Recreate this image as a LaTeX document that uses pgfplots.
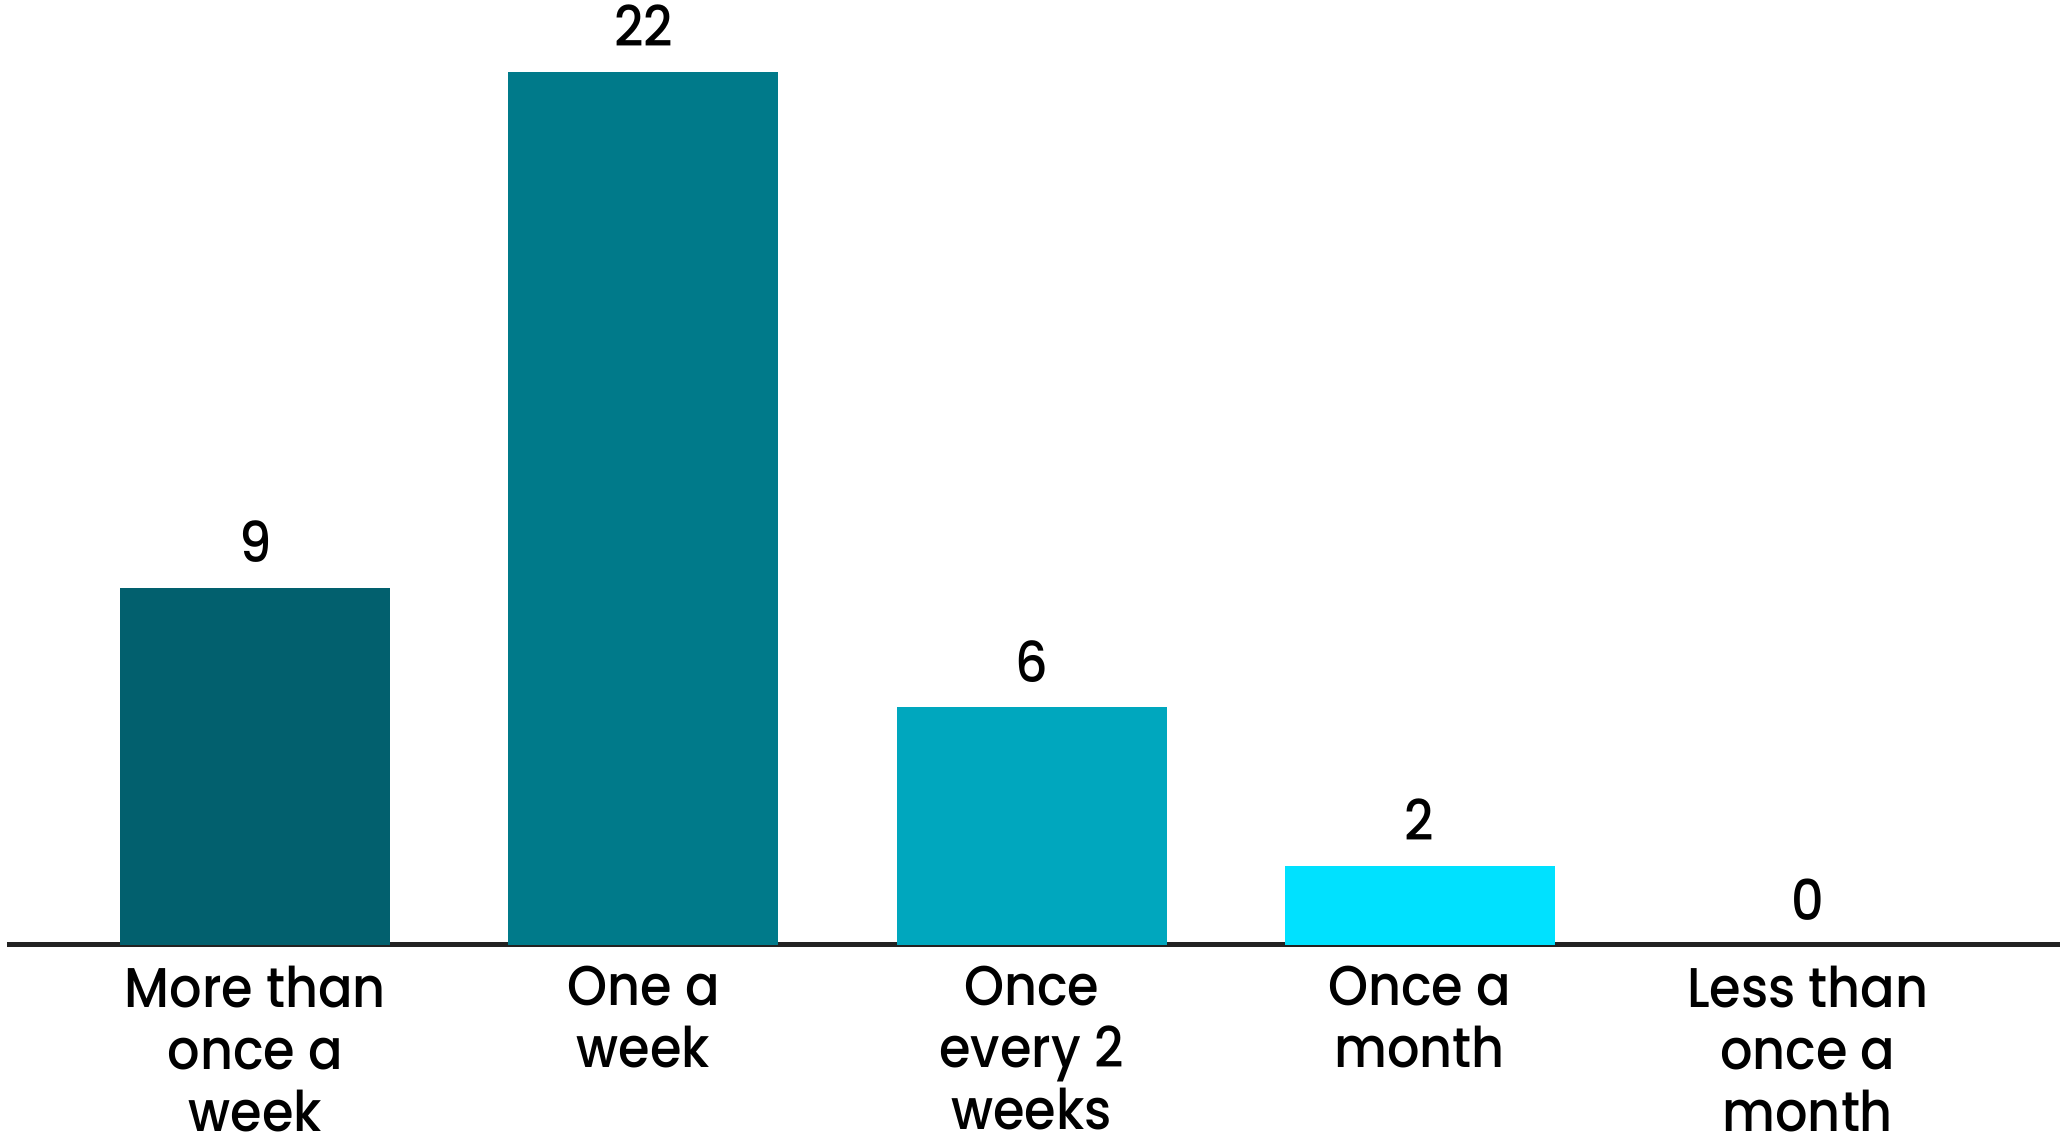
\documentclass[border=0pt]{standalone}
\usepackage{fontspec}
\setmainfont{Poppins Medium}[FakeStretch=0.91]
\usepackage{pgfplots}
\pgfplotsset{compat=1.18}

\definecolor{barA}{HTML}{02606E}
\definecolor{barB}{HTML}{007A8A}
\definecolor{barC}{HTML}{00A7BE}
\definecolor{barD}{HTML}{00E1FF}
\definecolor{baseln}{HTML}{222222}

\begin{document}
\begin{tikzpicture}
\begin{axis}[
    scale only axis,
    width=513.25pt, height=228.25pt,
    xmin=-0.64, xmax=4.65,
    ymin=0, ymax=23,
    ybar, bar width=67.5pt,
    hide y axis,
    axis x line*=bottom,
    x axis line style={-, line width=1.25pt, color=baseln},
    xtick={0,1,2,3,4},
    xticklabels={More than\\once a\\week, One a\\week, Once\\every 2\\weeks, Once a\\month, Less than\\once a\\month},
    major tick length=0pt,
    xticklabel style={align=center, anchor=north, inner sep=0pt, yshift=-5pt,
        font=\fontsize{14}{15.5}\selectfont, text=black},
    /pgf/number format/assume math mode=true,
    nodes near coords,
    every node near coord/.append style={font=\fontsize{14}{15.5}\selectfont,
        text=black, anchor=south, inner sep=0pt, yshift=6pt},
]
\addplot[fill=barA, draw=none, bar shift=0pt] coordinates {(0,9)};
\addplot[fill=barB, draw=none, bar shift=0pt] coordinates {(1,22)};
\addplot[fill=barC, draw=none, bar shift=0pt] coordinates {(2,6)};
\addplot[fill=barD, draw=none, bar shift=0pt] coordinates {(3,2)};
\addplot[fill=none, draw=none, bar shift=0pt] coordinates {(4,0)};
\end{axis}
\pgfresetboundingbox
\path (-1.75pt,-49.25pt) rectangle (514pt,236.25pt);
\end{tikzpicture}
\end{document}
